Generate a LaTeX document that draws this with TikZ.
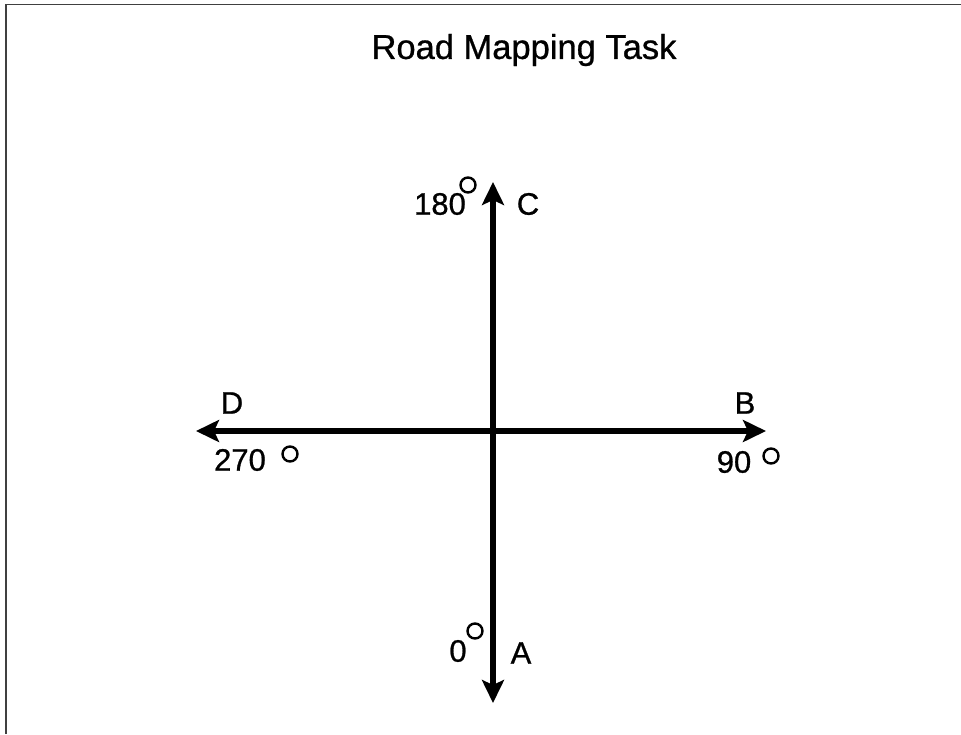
\documentclass[tikz,border=0pt]{standalone}
\usepackage{fontspec}
\setmainfont{Liberation Sans}[RawFeature={embolden=0.8}]
\usetikzlibrary{arrows.meta}
\begin{document}
\begin{tikzpicture}[x=1pt,y=-1pt,
  road/.style={line width=6pt,{Stealth[length=23pt,width=22pt,inset=5pt]}-{Stealth[length=23pt,width=22pt,inset=5pt]}},
  lbl/.style={inner sep=0pt,font=\fontsize{31}{34}\selectfont},
  deg/.style={circle,draw,line width=2.4pt,inner sep=0pt,minimum size=15pt}]
\useasboundingbox (0,0) rectangle (961,734);
\draw[line width=1.8pt,black!75] (6,734) -- (6,4.5) -- (961,4.5);
\node[inner sep=0pt,font=\fontsize{34.5}{38}\selectfont] (title) at (524,50) {Road Mapping Task};
\coordinate (A) at (493,703);
\coordinate (C) at (493,182);
\coordinate (D) at (196,431);
\coordinate (B) at (766,431);
\draw[road] (A) -- (C);
\draw[road] (D) -- (B);
\node[lbl] (l180) at (440,204) {180};
\node[deg] (d180) at (468,185) {};
\node[lbl] (lC) at (528,204) {C};
\node[lbl] (lD) at (232,403) {D};
\node[lbl] (l270) at (240,460) {270};
\node[deg] (d270) at (290,454) {};
\node[lbl] (lB) at (745,403) {B};
\node[lbl] (l90) at (734,462) {90};
\node[deg] (d90) at (771,456) {};
\node[lbl] (l0) at (458,651) {0};
\node[deg] (d0) at (475,631) {};
\node[lbl] (lA) at (521,653) {A};
\end{tikzpicture}
\end{document}
